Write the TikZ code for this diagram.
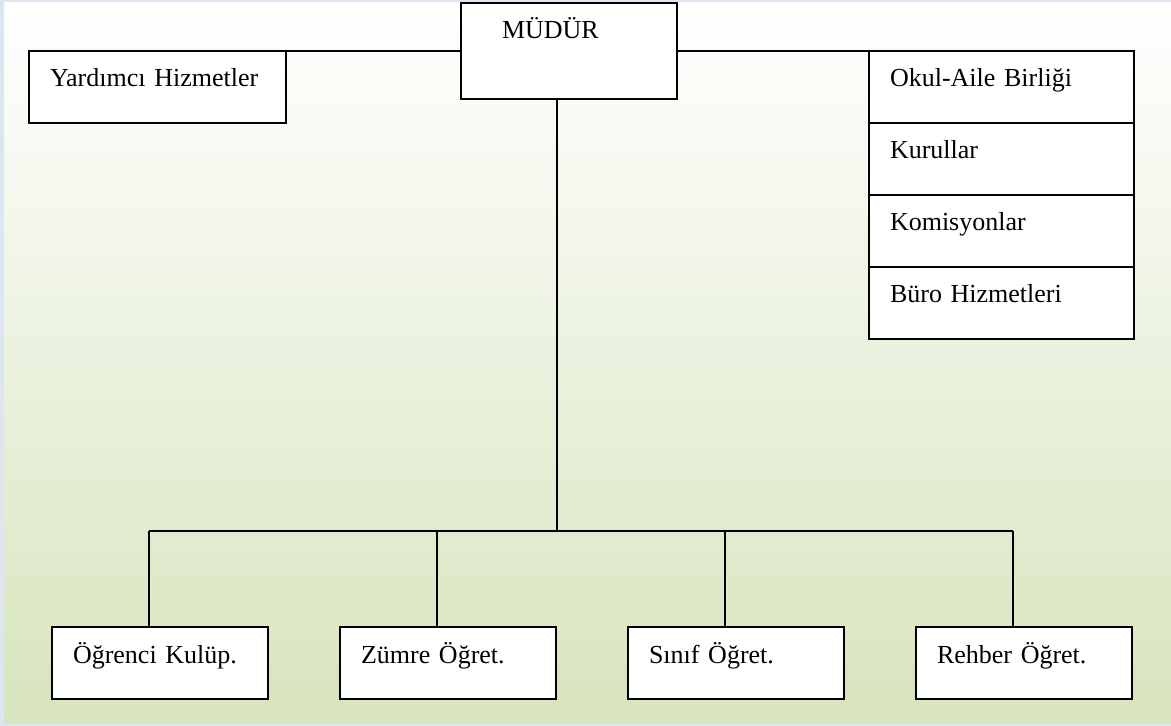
\documentclass[tikz,border=0pt]{standalone}
\usepackage{fontspec}
\setmainfont{Liberation Serif}
\usetikzlibrary{positioning}
\definecolor{framecol}{RGB}{220,230,242}
\definecolor{greenbot}{RGB}{215,228,189}

\begin{document}
\begin{tikzpicture}[x=0.5pt, y=-0.5pt]
\tikzstyle{box}=[draw=black, fill=white, line width=1pt, outer sep=0pt, inner xsep=10.5pt, inner ysep=0pt, text height=18pt, text depth=18pt, align=left, anchor=north west, font=\fontsize{13}{15}\selectfont]
\tikzstyle{unit}=[box, text width=87pt]
\tikzstyle{side}=[box, text width=111.5pt]
\tikzstyle{connect}=[-, line width=0.8pt]
% background
\useasboundingbox (0,0) rectangle (1171,726);
\fill[framecol] (0,0) rectangle (1171,726);
\shade[top color=white, bottom color=greenbot] (4,3) rectangle (1171,723);
% top row
\node[box, text depth=30pt, inner xsep=20.5pt, text width=67pt] (mudur) at (461,3) {MÜDÜR};
\node[box, text width=107.5pt] (yard) at (29,51) {Yardımcı Hizmetler};
\node[side] (okul) at (869,51) {Okul-Aile Birliği};
\node[side, below=0pt of okul] (kurul) {Kurullar};
\node[side, below=0pt of kurul] (komisyon) {Komisyonlar};
\node[side, below=0pt of komisyon] (buro) {Büro Hizmetleri};
% bottom row
\node[unit] (ogrenci) at (52,627) {Öğrenci Kulüp.};
\node[unit, right=36pt of ogrenci] (zumre) {Zümre Öğret.};
\node[unit, right=36pt of zumre] (sinif) {Sınıf Öğret.};
\node[unit, right=36pt of sinif] (rehber) {Rehber Öğret.};
% bus
\coordinate (trunk) at (557,531);
\coordinate (d1) at (149,531);
\coordinate (d2) at (437,531);
\coordinate (d3) at (725,531);
\coordinate (d4) at (1013,531);
\draw[connect] (mudur.west) -- (yard.north east);
\draw[connect] (mudur.east) -- (okul.north west);
\draw[connect] (mudur.south -| trunk) -- (trunk);
\draw[connect] (d1) -- (d4);
\foreach \n/\i in {ogrenci/1, zumre/2, sinif/3, rehber/4}
  \draw[connect] (d\i) -- (d\i |- \n.north);
\end{tikzpicture}
\end{document}
